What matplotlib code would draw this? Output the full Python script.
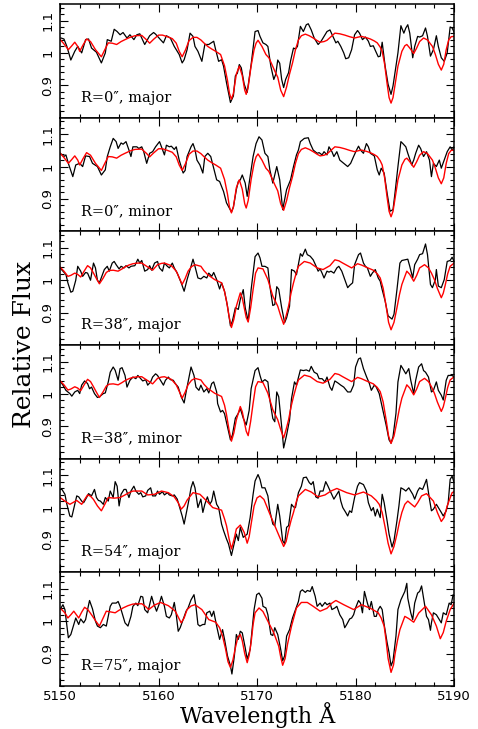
import numpy as np
import matplotlib
matplotlib.use("Agg")
import matplotlib.pyplot as plt
from matplotlib.ticker import MultipleLocator, FixedLocator, FuncFormatter

# observed spectra (black), (wavelength, relative flux)
obs_r0_major = [
    (5150.1,1.046),(5150.4,1.043),(5150.7,1.020),(5151.1,0.978),(5151.5,1.005),(5151.8,1.020),(5152.2,1.000),
    (5152.6,1.041),(5152.9,1.043),(5153.2,1.015),(5153.7,1.002),(5154.2,0.969),(5154.6,1.000),(5154.8,1.041),
    (5155.2,1.036),(5155.5,1.073),(5155.8,1.066),(5156.1,1.056),(5156.4,1.063),(5156.8,1.046),(5157.1,1.056),
    (5157.5,1.041),(5157.8,1.056),(5158.1,1.059),(5158.6,1.026),(5159.1,1.053),(5159.5,1.063),(5159.7,1.058),
    (5159.9,1.051),(5160.2,1.041),(5160.5,1.031),(5160.8,1.053),(5161.2,1.046),(5161.6,1.020),(5162.1,0.995),
    (5162.4,0.969),(5162.6,0.979),(5162.9,1.010),(5163.2,1.061),(5163.5,1.051),(5163.7,1.020),(5164.0,1.005),
    (5164.4,0.974),(5164.7,1.026),(5165.1,1.026),(5165.6,1.036),(5165.8,1.010),(5166.1,0.974),(5166.4,0.979),
    (5166.6,0.959),(5166.9,0.908),(5167.3,0.847),(5167.6,0.867),(5167.8,0.929),(5168.0,0.937),(5168.2,0.964),
    (5168.4,0.954),(5168.7,0.903),(5169.0,0.878),(5169.4,0.964),(5169.8,1.066),(5170.1,1.069),(5170.3,1.051),
    (5170.6,1.031),(5170.9,1.026),(5171.1,1.020),(5171.4,0.959),(5171.7,0.918),(5171.9,0.934),(5172.1,0.978),
    (5172.3,0.968),(5172.5,0.918),(5172.7,0.893),(5172.9,0.918),(5173.2,0.939),(5173.4,0.975),(5173.7,1.015),
    (5173.9,1.012),(5174.1,1.020),(5174.4,1.082),(5174.7,1.066),(5175.0,1.087),(5175.2,1.090),(5175.5,1.071),
    (5175.8,1.046),(5176.2,1.026),(5176.5,1.036),(5176.8,1.051),(5177.1,1.066),(5177.4,1.071),(5177.7,1.051),
    (5178.0,1.031),(5178.2,1.036),(5178.5,1.020),(5178.8,1.000),(5179.0,0.982),(5179.3,0.985),(5179.6,1.010),
    (5179.9,1.056),(5180.2,1.069),(5180.4,1.061),(5180.7,1.041),(5181.0,1.049),(5181.3,1.036),(5181.5,1.020),
    (5181.8,1.022),(5182.0,1.008),(5182.3,0.988),(5182.5,0.990),(5182.7,1.033),(5183.0,0.959),(5183.3,0.903),
    (5183.6,0.872),(5183.8,0.898),(5184.0,0.939),(5184.3,1.000),(5184.6,1.084),(5184.9,1.061),(5185.1,1.077),
    (5185.3,1.087),(5185.5,1.061),(5185.8,0.985),(5186.0,1.020),(5186.3,1.051),(5186.5,1.049),(5186.8,1.053),
    (5187.1,1.077),(5187.3,1.051),(5187.6,0.990),(5187.9,1.010),(5188.2,1.053),(5188.4,1.020),(5188.7,0.985),
    (5189.0,0.974),(5189.3,1.000),(5189.6,1.080),(5189.8,1.077),(5190.0,1.064)]

obs_r0_minor = [
    (5150.1,1.039),(5150.4,1.031),(5150.6,1.036),(5150.9,1.005),(5151.3,0.969),(5151.6,1.005),(5152.0,1.010),
    (5152.3,1.000),(5152.6,1.033),(5153.0,1.031),(5153.3,1.010),(5153.8,1.000),(5154.2,0.974),(5154.6,0.990),
    (5154.8,1.031),(5155.1,1.061),(5155.4,1.087),(5155.7,1.077),(5155.9,1.056),(5156.2,1.073),(5156.4,1.069),
    (5156.7,1.077),(5157.0,1.051),(5157.2,1.031),(5157.4,1.061),(5157.8,1.061),(5158.0,1.056),(5158.3,1.061),
    (5158.5,1.046),(5158.8,1.010),(5159.1,1.041),(5159.4,1.046),(5159.7,1.061),(5160.1,1.077),(5160.3,1.061),
    (5160.6,1.036),(5160.8,1.066),(5161.1,1.061),(5161.3,1.063),(5161.6,1.053),(5161.8,1.061),(5162.1,1.020),
    (5162.5,0.980),(5162.7,0.988),(5162.9,1.031),(5163.3,1.061),(5163.5,1.071),(5163.7,1.053),(5163.9,1.020),
    (5164.2,1.005),(5164.5,0.980),(5164.7,1.031),(5165.0,1.041),(5165.3,1.031),(5165.6,0.995),(5165.9,0.959),
    (5166.2,0.954),(5166.6,0.923),(5166.9,0.888),(5167.4,0.860),(5167.6,0.875),(5167.9,0.929),(5168.1,0.954),
    (5168.3,0.959),(5168.5,0.974),(5168.8,0.949),(5169.0,0.908),(5169.2,0.949),(5169.6,1.031),(5169.9,1.071),
    (5170.2,1.092),(5170.5,1.082),(5170.8,1.041),(5171.1,1.031),(5171.3,0.990),(5171.6,0.949),(5172.0,1.000),
    (5172.3,0.959),(5172.6,0.867),(5172.8,0.898),(5173.0,0.929),(5173.4,0.959),(5173.7,1.000),(5174.0,1.036),
    (5174.2,1.051),(5174.4,1.077),(5174.8,1.087),(5175.2,1.089),(5175.4,1.071),(5175.7,1.051),(5176.1,1.041),
    (5176.3,1.043),(5176.6,1.036),(5176.8,1.046),(5177.1,1.036),(5177.3,1.061),(5177.6,1.046),(5177.8,1.031),
    (5178.1,1.046),(5178.4,1.020),(5178.8,1.010),(5179.2,1.000),(5179.5,1.010),(5179.8,1.031),(5180.1,1.051),
    (5180.3,1.063),(5180.5,1.051),(5180.8,1.041),(5181.1,1.071),(5181.3,1.061),(5181.5,1.041),(5181.9,1.033),
    (5182.2,0.990),(5182.4,0.974),(5182.6,0.995),(5182.9,0.980),(5183.2,0.918),(5183.5,0.862),(5183.8,0.867),
    (5184.0,0.918),(5184.3,1.000),(5184.6,1.077),(5184.8,1.071),(5185.1,1.061),(5185.3,1.041),(5185.7,1.005),
    (5185.9,1.020),(5186.1,1.041),(5186.4,1.066),(5186.6,1.056),(5186.9,1.031),(5187.2,1.046),(5187.5,1.020),
    (5187.7,0.969),(5187.9,1.010),(5188.2,1.000),(5188.5,1.020),(5188.7,0.995),(5189.0,1.020),(5189.3,1.046),
    (5189.6,1.061),(5189.8,1.051),(5190.0,1.061)]

obs_r38_major = [
    (5150.0,1.038),(5150.3,1.028),(5150.6,1.018),(5150.8,0.992),(5151.1,0.963),(5151.3,0.966),(5151.6,1.000),
    (5151.8,1.043),(5152.1,1.028),(5152.3,1.012),(5152.6,1.024),(5152.8,1.022),(5153.1,1.000),(5153.4,1.053),
    (5153.6,1.038),(5153.8,1.000),(5154.0,0.992),(5154.3,1.017),(5154.5,1.033),(5154.8,1.043),(5155.0,1.028),
    (5155.3,1.053),(5155.5,1.058),(5155.7,1.048),(5156.0,1.035),(5156.2,1.043),(5156.5,1.038),(5156.7,1.045),
    (5157.0,1.038),(5157.2,1.043),(5157.6,1.045),(5157.9,1.065),(5158.1,1.053),(5158.3,1.061),(5158.6,1.028),
    (5158.9,1.033),(5159.1,1.045),(5159.3,1.031),(5159.6,1.053),(5159.9,1.058),(5160.1,1.038),(5160.4,1.028),
    (5160.6,1.053),(5160.9,1.043),(5161.1,1.038),(5161.4,1.053),(5161.6,1.038),(5161.9,1.022),(5162.3,0.992),
    (5162.6,0.966),(5162.9,1.002),(5163.3,1.043),(5163.5,1.065),(5163.7,1.043),(5164.0,1.007),(5164.3,1.004),
    (5164.6,1.012),(5164.9,1.007),(5165.1,1.022),(5165.4,1.012),(5165.6,1.024),(5165.9,1.002),(5166.2,0.973),
    (5166.4,0.992),(5166.7,0.966),(5167.0,0.920),(5167.3,0.859),(5167.5,0.874),(5167.8,0.915),(5168.1,0.910),
    (5168.3,0.941),(5168.6,0.971),(5168.8,0.915),(5169.1,0.874),(5169.4,0.971),(5169.8,1.073),(5170.1,1.084),
    (5170.3,1.069),(5170.5,1.043),(5170.8,1.043),(5171.1,1.038),(5171.3,0.982),(5171.6,0.922),(5171.8,0.925),
    (5172.0,0.980),(5172.2,0.972),(5172.5,0.915),(5172.8,0.869),(5173.0,0.884),(5173.3,0.920),(5173.5,1.033),
    (5173.8,1.028),(5174.0,1.017),(5174.4,1.082),(5174.6,1.074),(5174.9,1.096),(5175.1,1.079),(5175.4,1.074),
    (5175.7,1.063),(5176.0,1.043),(5176.2,1.028),(5176.4,1.035),(5176.6,1.022),(5176.8,1.007),(5177.1,1.028),
    (5177.3,1.025),(5177.5,1.028),(5177.8,1.022),(5178.1,1.038),(5178.3,1.043),(5178.6,1.028),(5178.9,1.002),
    (5179.2,0.977),(5179.4,0.984),(5179.7,0.992),(5179.9,1.048),(5180.3,1.079),(5180.5,1.084),(5180.8,1.053),
    (5181.0,1.043),(5181.2,1.038),(5181.5,1.012),(5181.7,1.022),(5182.0,1.033),(5182.3,1.007),(5182.5,0.997),
    (5182.7,0.971),(5183.0,0.936),(5183.3,0.890),(5183.7,0.880),(5183.9,0.895),(5184.2,0.971),(5184.5,1.053),
    (5184.7,1.061),(5185.0,1.063),(5185.3,1.065),(5185.5,1.043),(5185.8,1.007),(5186.0,1.048),(5186.3,1.065),
    (5186.5,1.079),(5186.8,1.082),(5187.1,1.112),(5187.3,1.079),(5187.6,0.987),(5187.8,0.977),(5188.1,1.002),
    (5188.2,1.033),(5188.4,0.982),(5188.7,0.977),(5189.0,1.002),(5189.3,1.058),(5189.6,1.061),(5189.8,1.071),
    (5190.0,1.058)]

obs_r38_minor = [
    (5150.0,1.040),(5150.3,1.027),(5150.6,1.011),(5151.0,1.001),(5151.2,0.993),(5151.5,1.006),(5151.8,1.011),
    (5152.0,1.001),(5152.2,1.027),(5152.5,1.040),(5152.8,1.032),(5153.0,1.016),(5153.2,1.021),(5153.5,1.001),
    (5153.8,0.989),(5154.0,0.991),(5154.4,1.001),(5154.6,1.003),(5154.9,1.037),(5155.1,1.067),(5155.4,1.083),
    (5155.6,1.073),(5155.9,1.042),(5156.1,1.078),(5156.3,1.081),(5156.6,1.057),(5156.8,1.021),(5157.1,1.042),
    (5157.4,1.052),(5157.7,1.047),(5157.9,1.057),(5158.2,1.047),(5158.4,1.040),(5158.7,1.044),(5158.9,1.027),
    (5159.2,1.037),(5159.4,1.052),(5159.7,1.062),(5159.9,1.057),(5160.2,1.042),(5160.5,1.027),(5160.7,1.042),
    (5161.0,1.052),(5161.2,1.044),(5161.5,1.042),(5161.7,1.032),(5162.0,1.021),(5162.3,0.991),(5162.6,0.972),
    (5162.8,1.006),(5163.1,1.052),(5163.3,1.083),(5163.6,1.057),(5163.8,1.021),(5164.1,1.011),(5164.3,1.027),
    (5164.6,1.006),(5164.9,1.016),(5165.1,1.003),(5165.4,1.032),(5165.6,1.037),(5165.9,1.006),(5166.0,0.970),
    (5166.3,0.944),(5166.5,0.949),(5166.7,0.939),(5167.0,0.899),(5167.3,0.858),(5167.5,0.873),(5167.8,0.925),
    (5168.1,0.940),(5168.3,0.955),(5168.6,0.925),(5168.9,0.904),(5169.2,0.949),(5169.4,1.016),(5169.8,1.072),
    (5170.1,1.081),(5170.3,1.057),(5170.5,1.037),(5170.8,1.044),(5171.1,1.037),(5171.3,0.981),(5171.6,0.924),
    (5171.8,0.914),(5172.0,1.006),(5172.2,0.991),(5172.5,0.899),(5172.7,0.833),(5173.0,0.873),(5173.3,0.920),
    (5173.5,0.986),(5173.8,1.037),(5174.0,1.027),(5174.4,1.074),(5174.7,1.072),(5175.0,1.074),(5175.3,1.070),
    (5175.5,1.085),(5175.8,1.067),(5176.1,1.062),(5176.3,1.047),(5176.6,1.047),(5176.9,1.037),(5177.1,1.052),
    (5177.4,1.021),(5177.6,1.011),(5177.9,1.040),(5178.2,1.034),(5178.5,1.027),(5178.8,1.021),(5179.2,1.006),
    (5179.5,1.006),(5179.8,1.027),(5180.0,1.083),(5180.3,1.108),(5180.5,1.111),(5180.8,1.078),(5181.1,1.054),
    (5181.4,1.032),(5181.6,1.011),(5181.9,1.027),(5182.1,1.021),(5182.4,1.001),(5182.7,0.960),(5183.1,0.904),
    (5183.4,0.858),(5183.6,0.848),(5183.8,0.868),(5184.1,0.940),(5184.3,1.037),(5184.6,1.088),(5184.8,1.078),
    (5185.1,1.062),(5185.4,1.078),(5185.6,1.042),(5185.9,1.001),(5186.1,1.042),(5186.4,1.083),(5186.7,1.093),
    (5186.9,1.072),(5187.1,1.067),(5187.4,1.052),(5187.7,1.006),(5187.9,1.011),(5188.2,1.037),(5188.4,1.011),
    (5188.7,0.996),(5188.9,0.981),(5189.2,1.042),(5189.4,1.057),(5189.8,1.057),(5190.0,1.052)]

obs_r54_major = [
    (5150.0,1.056),(5150.2,1.056),(5150.5,1.041),(5150.7,1.010),(5151.0,0.974),(5151.2,0.971),(5151.5,1.010),
    (5151.7,1.036),(5151.9,1.033),(5152.2,1.020),(5152.4,1.015),(5152.7,1.031),(5152.9,1.043),(5153.2,1.036),
    (5153.5,1.056),(5153.7,1.031),(5153.9,1.022),(5154.1,1.020),(5154.4,1.010),(5154.6,1.031),(5154.9,1.020),
    (5155.1,1.051),(5155.4,1.031),(5155.6,1.080),(5155.8,1.066),(5156.0,1.005),(5156.2,1.041),(5156.5,1.056),
    (5156.7,1.056),(5157.0,1.031),(5157.2,1.051),(5157.5,1.066),(5157.7,1.051),(5158.0,1.041),(5158.2,1.046),
    (5158.4,1.033),(5158.7,1.036),(5158.9,1.053),(5159.2,1.061),(5159.4,1.036),(5159.7,1.036),(5159.9,1.051),
    (5160.1,1.041),(5160.4,1.049),(5160.6,1.039),(5160.9,1.046),(5161.1,1.039),(5161.4,1.036),(5161.6,1.039),
    (5161.9,1.026),(5162.1,1.005),(5162.4,0.974),(5162.6,0.949),(5162.8,0.980),(5163.1,1.026),(5163.3,1.061),
    (5163.5,1.080),(5163.7,1.061),(5164.0,1.000),(5164.3,1.026),(5164.5,0.985),(5164.7,1.010),(5164.96,1.033),
    (5165.2,1.010),(5165.4,1.020),(5165.6,1.051),(5165.9,1.010),(5166.1,1.000),(5166.4,0.949),(5166.6,0.929),
    (5166.9,0.903),(5167.1,0.888),(5167.4,0.852),(5167.6,0.878),(5167.9,0.918),(5168.1,0.898),(5168.3,0.939),
    (5168.6,0.908),(5168.8,0.913),(5169.0,0.918),(5169.3,0.969),(5169.6,1.041),(5169.8,1.082),(5170.1,1.102),
    (5170.3,1.087),(5170.5,1.061),(5170.8,1.061),(5171.1,1.036),(5171.3,0.990),(5171.6,0.949),(5171.8,0.944),
    (5172.1,1.010),(5172.3,0.974),(5172.6,0.898),(5172.8,0.888),(5173.0,0.939),(5173.2,0.944),(5173.5,1.010),
    (5173.7,1.002),(5173.9,1.000),(5174.2,1.046),(5174.5,1.066),(5174.7,1.092),(5175.0,1.094),(5175.3,1.077),
    (5175.5,1.071),(5175.7,1.080),(5175.96,1.033),(5176.2,1.029),(5176.4,1.051),(5176.7,1.051),(5176.97,1.080),
    (5177.2,1.066),(5177.5,1.046),(5177.8,1.026),(5178.1,1.041),(5178.3,1.051),(5178.5,1.020),(5178.7,1.000),
    (5179.0,0.985),(5179.2,0.974),(5179.4,0.990),(5179.6,0.985),(5179.9,1.031),(5180.2,1.066),(5180.4,1.077),
    (5180.8,1.071),(5181.1,1.051),(5181.3,1.015),(5181.6,0.990),(5181.8,1.000),(5182.0,0.974),(5182.2,0.995),
    (5182.5,0.969),(5182.7,1.041),(5182.9,1.015),(5183.2,0.959),(5183.4,0.918),(5183.7,0.878),(5183.9,0.898),
    (5184.2,0.959),(5184.4,1.005),(5184.6,1.061),(5184.9,1.056),(5185.1,1.051),(5185.4,1.061),(5185.6,1.051),
    (5185.8,1.041),(5186.0,1.026),(5186.3,1.051),(5186.5,1.061),(5186.8,1.056),(5187.0,1.071),(5187.2,1.087),
    (5187.5,1.026),(5187.7,0.990),(5187.9,0.995),(5188.2,1.010),(5188.4,1.000),(5188.7,0.985),(5188.9,0.974),
    (5189.2,0.990),(5189.4,1.015),(5189.6,1.087),(5189.8,1.097),(5190.0,1.077)]

obs_r75_major = [
    (5150.1,1.041),(5150.3,1.051),(5150.5,1.036),(5150.7,0.985),(5150.85,0.949),(5151.1,0.959),(5151.4,0.990),
    (5151.6,1.010),(5151.9,0.990),(5152.1,1.007),(5152.4,0.995),(5152.6,1.005),(5152.8,1.036),(5153.0,1.064),
    (5153.3,1.038),(5153.6,1.000),(5153.8,0.985),(5154.1,0.980),(5154.4,0.990),(5154.7,0.985),(5154.9,1.015),
    (5155.1,1.046),(5155.3,1.056),(5155.7,1.056),(5155.9,1.061),(5156.1,1.046),(5156.4,1.015),(5156.6,0.995),
    (5156.9,0.985),(5157.2,1.015),(5157.4,1.046),(5157.7,1.056),(5157.9,1.048),(5158.2,1.077),(5158.4,1.075),
    (5158.6,1.036),(5158.9,1.026),(5159.1,1.051),(5159.3,1.077),(5159.5,1.056),(5159.8,1.031),(5160.1,1.056),
    (5160.3,1.077),(5160.6,1.046),(5160.8,1.015),(5161.1,1.010),(5161.3,1.020),(5161.6,1.058),(5161.8,1.020),
    (5162.0,0.969),(5162.2,0.980),(5162.5,1.005),(5162.8,1.031),(5163.0,1.041),(5163.3,1.066),(5163.6,1.082),
    (5163.8,1.046),(5164.0,0.990),(5164.2,0.985),(5164.5,0.990),(5164.7,0.990),(5164.9,1.026),(5165.2,1.031),
    (5165.4,1.015),(5165.6,1.031),(5165.9,0.985),(5166.2,0.944),(5166.5,0.974),(5166.7,0.944),(5167.0,0.893),
    (5167.3,0.862),(5167.45,0.837),(5167.7,0.893),(5167.9,0.959),(5168.1,0.944),(5168.3,0.969),(5168.5,0.964),
    (5168.8,0.918),(5169.0,0.883),(5169.3,0.913),(5169.5,0.974),(5169.7,1.036),(5169.96,1.082),(5170.2,1.087),
    (5170.5,1.071),(5170.6,1.046),(5170.9,1.041),(5171.1,1.020),(5171.4,0.959),(5171.6,0.956),(5171.8,0.980),
    (5172.1,0.959),(5172.4,0.913),(5172.6,0.878),(5172.8,0.893),(5173.0,0.954),(5173.3,0.974),(5173.6,1.010),
    (5173.9,1.036),(5174.2,1.061),(5174.4,1.092),(5174.6,1.097),(5174.9,1.089),(5175.1,1.095),(5175.4,1.092),
    (5175.6,1.107),(5175.9,1.077),(5176.1,1.046),(5176.4,1.056),(5176.6,1.046),(5176.9,1.058),(5177.1,1.051),
    (5177.4,1.056),(5177.6,1.036),(5177.9,1.041),(5178.1,1.046),(5178.4,1.020),(5178.7,1.005),(5178.9,0.980),
    (5179.1,0.990),(5179.4,1.007),(5179.6,1.010),(5179.8,1.020),(5180.0,1.041),(5180.3,1.064),(5180.5,1.056),
    (5180.7,1.026),(5180.9,1.092),(5181.2,1.056),(5181.4,1.036),(5181.6,1.061),(5181.9,1.015),(5182.1,1.015),
    (5182.3,1.036),(5182.5,1.046),(5182.7,1.036),(5182.9,0.990),(5183.2,0.934),(5183.4,0.903),(5183.6,0.862),
    (5183.8,0.878),(5184.1,0.954),(5184.3,1.036),(5184.6,1.066),(5184.8,1.079),(5185.0,1.092),(5185.2,1.117),
    (5185.3,1.071),(5185.6,1.026),(5185.8,1.005),(5186.0,1.056),(5186.3,1.087),(5186.5,1.092),(5186.7,1.109),
    (5186.9,1.071),(5187.2,1.015),(5187.4,1.005),(5187.6,0.972),(5187.7,0.995),(5187.9,1.026),(5188.2,1.020),
    (5188.5,1.005),(5188.7,0.995),(5188.9,1.026),(5189.2,1.020),(5189.5,1.056),(5189.7,1.051),(5189.9,1.082),
    (5190.0,1.077)]

# model spectra (red)
mod_r0 = [
    (5150.0,1.042),(5150.4,1.028),(5150.85,1.010),(5151.2,1.022),(5151.5,1.033),(5151.8,1.020),(5152.0,1.005),
    (5152.35,1.025),(5152.7,1.043),(5153.1,1.035),(5153.6,1.010),(5154.2,0.988),(5154.55,1.010),(5154.9,1.031),
    (5155.3,1.030),(5155.75,1.026),(5156.2,1.035),(5156.6,1.041),(5157.1,1.048),(5157.6,1.053),(5158.3,1.054),
    (5158.8,1.040),(5159.1,1.030),(5159.5,1.042),(5160.0,1.055),(5160.4,1.055),(5160.9,1.050),(5161.4,1.044),
    (5161.8,1.030),(5162.1,1.005),(5162.4,0.988),(5162.75,1.010),(5163.1,1.038),(5163.5,1.048),(5163.9,1.048),
    (5164.3,1.040),(5164.6,1.031),(5165.0,1.020),(5165.4,1.012),(5165.8,1.005),(5166.3,0.995),(5166.7,0.960),
    (5167.0,0.915),(5167.2,0.875),(5167.4,0.857),(5167.6,0.875),(5167.9,0.935),(5168.2,0.959),(5168.5,0.930),
    (5168.75,0.885),(5168.9,0.872),(5169.1,0.895),(5169.4,0.960),(5169.7,1.010),(5169.9,1.030),(5170.1,1.039),
    (5170.5,1.020),(5170.9,0.995),(5171.2,0.985),(5171.5,0.965),(5171.8,0.944),(5172.1,0.925),(5172.4,0.885),
    (5172.7,0.865),(5173.0,0.895),(5173.3,0.935),(5173.6,0.969),(5173.9,1.010),(5174.2,1.040),(5174.5,1.053),
    (5174.9,1.058),(5175.3,1.053),(5175.7,1.046),(5176.1,1.038),(5176.4,1.033),(5176.8,1.035),(5177.1,1.039),
    (5177.5,1.050),(5177.9,1.061),(5178.4,1.059),(5178.9,1.055),(5179.4,1.050),(5179.9,1.046),(5180.3,1.049),
    (5180.6,1.051),(5181.1,1.047),(5181.5,1.043),(5181.9,1.037),(5182.2,1.031),(5182.5,1.018),(5182.7,1.005),
    (5182.95,0.965),(5183.2,0.905),(5183.4,0.862),(5183.6,0.845),(5183.8,0.862),(5184.05,0.910),(5184.3,0.959),
    (5184.7,1.005),(5185.0,1.022),(5185.2,1.026),(5185.5,1.015),(5185.9,0.998),(5186.2,1.015),(5186.5,1.035),
    (5186.9,1.046),(5187.3,1.040),(5187.6,1.028),(5187.8,1.020),(5188.1,0.995),(5188.4,0.965),(5188.7,0.947),
    (5188.95,0.965),(5189.2,1.010),(5189.45,1.040),(5189.7,1.050),(5190.0,1.051)]

mod_r38 = [
    (5150.0,1.041),(5150.4,1.028),(5150.8,1.012),(5151.1,1.015),(5151.5,1.022),(5151.8,1.018),(5152.1,1.010),
    (5152.45,1.028),(5152.8,1.045),(5153.1,1.038),(5153.4,1.022),(5153.7,1.005),(5154.0,0.989),(5154.35,1.005),
    (5154.7,1.024),(5155.0,1.030),(5155.4,1.031),(5155.9,1.028),(5156.3,1.035),(5156.6,1.041),(5157.0,1.047),
    (5157.4,1.051),(5157.9,1.053),(5158.3,1.053),(5158.9,1.041),(5159.4,1.031),(5159.9,1.048),(5160.3,1.052),
    (5160.6,1.053),(5161.3,1.045),(5161.8,1.028),(5162.1,1.008),(5162.4,0.987),(5162.7,1.005),(5163.0,1.028),
    (5163.35,1.042),(5163.7,1.048),(5164.3,1.043),(5164.6,1.030),(5165.0,1.017),(5165.7,1.002),(5166.4,0.992),
    (5166.7,0.965),(5166.9,0.936),(5167.15,0.890),(5167.4,0.854),(5167.65,0.880),(5167.9,0.920),(5168.3,0.961),
    (5168.5,0.945),(5168.7,0.915),(5168.9,0.885),(5169.1,0.871),(5169.35,0.915),(5169.6,0.971),(5169.85,1.022),
    (5170.1,1.038),(5170.6,1.035),(5171.1,1.002),(5171.6,0.951),(5172.1,0.920),(5172.4,0.890),(5172.7,0.864),
    (5172.95,0.890),(5173.2,0.920),(5173.45,0.960),(5173.7,0.992),(5174.0,1.025),(5174.2,1.043),(5174.8,1.058),
    (5175.4,1.053),(5176.1,1.038),(5176.7,1.033),(5177.4,1.045),(5177.9,1.063),(5178.3,1.060),(5178.7,1.053),
    (5179.6,1.038),(5180.2,1.051),(5180.6,1.047),(5181.1,1.040),(5181.8,1.031),(5182.2,1.020),(5182.5,1.007),
    (5182.8,0.975),(5183.1,0.920),(5183.35,0.870),(5183.6,0.847),(5183.9,0.870),(5184.2,0.915),(5184.45,0.955),
    (5184.7,0.987),(5185.2,1.028),(5185.5,1.018),(5185.9,0.997),(5186.2,1.015),(5186.5,1.038),(5187.0,1.048),
    (5187.4,1.038),(5187.7,1.022),(5188.0,1.002),(5188.3,0.975),(5188.7,0.946),(5188.9,0.960),(5189.1,0.985),
    (5189.35,1.020),(5189.6,1.043),(5190.0,1.053)]

mod_r54 = [
    (5150.0,1.031),(5150.5,1.020),(5151.0,1.010),(5151.35,1.016),(5151.7,1.022),(5152.2,1.010),(5152.5,1.025),
    (5152.8,1.039),(5153.1,1.035),(5153.4,1.025),(5153.8,1.005),(5154.2,0.990),(5154.55,1.010),(5154.9,1.031),
    (5155.5,1.029),(5156.1,1.031),(5156.6,1.039),(5157.0,1.046),(5157.4,1.051),(5158.3,1.051),(5158.9,1.039),
    (5159.6,1.041),(5160.3,1.051),(5161.0,1.046),(5161.6,1.033),(5162.0,1.015),(5162.3,0.995),(5162.6,1.005),
    (5162.9,1.023),(5163.5,1.046),(5164.2,1.041),(5164.9,1.020),(5165.5,1.000),(5166.4,0.992),(5166.7,0.965),
    (5166.9,0.944),(5167.15,0.905),(5167.4,0.872),(5167.65,0.900),(5167.9,0.934),(5168.3,0.946),(5168.5,0.935),
    (5168.7,0.923),(5169.0,0.890),(5169.2,0.910),(5169.4,0.949),(5169.7,1.005),(5170.0,1.030),(5170.3,1.036),
    (5170.7,1.025),(5171.3,0.980),(5171.8,0.944),(5172.3,0.908),(5172.7,0.880),(5172.95,0.895),(5173.2,0.930),
    (5173.45,0.960),(5173.7,0.985),(5174.0,1.020),(5174.2,1.036),(5174.9,1.056),(5175.5,1.048),(5176.2,1.033),
    (5176.9,1.039),(5177.5,1.051),(5178.1,1.059),(5179.1,1.046),(5179.9,1.039),(5180.8,1.048),(5181.6,1.036),
    (5182.1,1.022),(5182.4,1.010),(5182.7,0.985),(5183.0,0.939),(5183.3,0.890),(5183.6,0.857),(5183.9,0.880),
    (5184.2,0.918),(5184.45,0.955),(5184.7,0.985),(5185.0,1.010),(5185.3,1.020),(5185.6,1.012),(5186.0,1.002),
    (5186.3,1.015),(5186.7,1.036),(5187.2,1.043),(5187.9,1.020),(5188.3,0.985),(5188.7,0.957),(5189.0,0.970),
    (5189.3,1.005),(5189.6,1.030),(5189.8,1.046),(5190.0,1.049)]

mod_r75 = [
    (5150.1,1.038),(5150.5,1.026),(5150.8,1.010),(5151.1,1.020),(5151.4,1.031),(5151.9,1.010),(5152.2,1.028),
    (5152.5,1.043),(5152.85,1.035),(5153.2,1.020),(5153.6,1.002),(5154.0,0.985),(5154.35,1.008),(5154.7,1.031),
    (5155.1,1.029),(5155.6,1.026),(5156.0,1.034),(5156.4,1.041),(5156.9,1.048),(5157.4,1.053),(5158.3,1.054),
    (5158.7,1.045),(5159.0,1.036),(5159.6,1.050),(5160.2,1.058),(5161.0,1.048),(5161.7,1.031),(5162.0,1.013),
    (5162.3,0.995),(5162.6,1.010),(5162.9,1.036),(5163.3,1.047),(5163.7,1.051),(5164.4,1.036),(5165.1,1.005),
    (5165.8,0.997),(5166.2,0.980),(5166.5,0.954),(5166.8,0.915),(5167.05,0.875),(5167.3,0.857),(5167.55,0.880),
    (5167.8,0.918),(5168.05,0.950),(5168.3,0.959),(5168.5,0.940),(5168.75,0.900),(5169.0,0.872),(5169.2,0.895),
    (5169.4,0.935),(5169.6,0.990),(5169.8,1.026),(5170.2,1.041),(5170.6,1.030),(5171.1,1.000),(5171.7,0.964),
    (5172.2,0.923),(5172.4,0.890),(5172.6,0.864),(5172.85,0.885),(5173.1,0.930),(5173.5,0.985),(5174.0,1.041),
    (5174.5,1.058),(5175.1,1.058),(5175.7,1.046),(5176.4,1.031),(5177.1,1.040),(5177.6,1.056),(5178.0,1.064),
    (5178.8,1.051),(5179.8,1.036),(5180.6,1.051),(5181.5,1.040),(5182.3,1.026),(5182.6,1.010),(5182.9,0.985),
    (5183.1,0.940),(5183.3,0.885),(5183.6,0.842),(5183.85,0.865),(5184.0,0.898),(5184.25,0.940),(5184.5,0.974),
    (5185.0,1.015),(5185.4,1.008),(5185.9,0.997),(5186.4,1.025),(5187.1,1.046),(5187.7,1.020),(5188.2,0.985),
    (5188.6,0.946),(5188.9,0.965),(5189.2,1.000),(5189.6,1.036),(5190.0,1.056)]

labels = ["R=0\u2033, major", "R=0\u2033, minor", "R=38\u2033, major",
          "R=38\u2033, minor", "R=54\u2033, major", "R=75\u2033, major"]
observed = [obs_r0_major, obs_r0_minor, obs_r38_major, obs_r38_minor, obs_r54_major, obs_r75_major]
models = [mod_r0, mod_r0, mod_r38, mod_r38, mod_r54, mod_r75]
flux_ticks = [0.9, 1.0, 1.1]

serif = "DejaVu Serif"
fig = plt.figure(figsize=(4.78, 7.29), dpi=100)
gs = fig.add_gridspec(6, 1, left=0.1255, right=0.950, top=0.9945, bottom=0.059, hspace=0)

for i in range(6):
    ax = fig.add_subplot(gs[i])
    wl, fx = np.array(observed[i]).T
    ax.plot(wl, fx, color="black", lw=0.9)
    wl, fx = np.array(models[i]).T
    ax.plot(wl, fx, color="#ff0000", lw=1.0)
    ax.set_xlim(5150, 5190)
    ax.set_ylim(0.80, 1.151)
    ax.xaxis.set_major_locator(MultipleLocator(10))
    ax.xaxis.set_minor_locator(MultipleLocator(2))
    ax.yaxis.set_major_locator(FixedLocator(flux_ticks))
    ax.yaxis.set_minor_locator(MultipleLocator(0.02))
    ax.yaxis.set_major_formatter(FuncFormatter(lambda v, p: "%g" % round(v, 2)))
    ax.tick_params(which="both", direction="in", top=True, right=True, width=0.8)
    ax.tick_params(which="major", length=6, labelsize=9.5, pad=4)
    ax.tick_params(which="minor", length=3)
    ax.tick_params(axis="x", which="major", pad=3)
    for lab in ax.get_yticklabels():
        lab.set_rotation(90)
        lab.set_va("center")
    for s in ax.spines.values():
        s.set_linewidth(1.1)
    if i < 5:
        ax.tick_params(labelbottom=False)
    ax.text(0.053, 0.14, labels[i], transform=ax.transAxes, fontsize=10.5, family=serif)

fig.text(0.052, 0.527, "Relative Flux", rotation=90, ha="center", va="center",
         fontsize=18, family=serif)
fig.text(0.54, 0.002, "Wavelength \u00c5", ha="center", va="bottom", fontsize=16, family=serif)

fig.savefig("out.png", dpi=100)
